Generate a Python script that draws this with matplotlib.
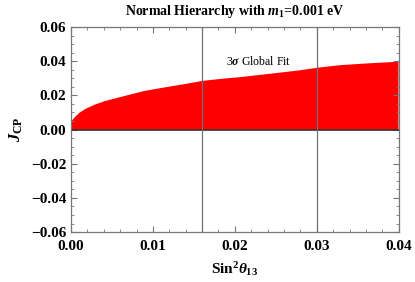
import matplotlib
matplotlib.use("Agg")
import matplotlib.pyplot as plt
from matplotlib.ticker import MultipleLocator

# upper edge of the red band
s13 = [0.0, 0.0005, 0.0010, 0.0017, 0.0028, 0.0041, 0.0065, 0.009, 0.0114, 0.0139,
       0.016, 0.0183, 0.0206, 0.0243, 0.0279, 0.030, 0.0328, 0.036, 0.0399]
jcp_up = [0.0053, 0.0080, 0.0102, 0.0124, 0.0148, 0.017, 0.020, 0.023, 0.025, 0.027,
          0.0288, 0.030, 0.031, 0.033, 0.035, 0.0365, 0.038, 0.039, 0.040]

fit_lo = 0.016
fit_hi = 0.030

plt.rcParams['font.family'] = ['Liberation Serif', 'DejaVu Serif']
plt.rcParams['mathtext.fontset'] = 'custom'
plt.rcParams['mathtext.rm'] = 'Liberation Serif:bold'
plt.rcParams['mathtext.it'] = 'Liberation Serif:bold:italic'
plt.rcParams['mathtext.bf'] = 'Liberation Serif:bold'

fig = plt.figure(figsize=(4.15, 2.82), dpi=100)
ax = fig.add_axes([0.171, 0.177, 0.790, 0.727])

ax.fill_between(s13, 0, jcp_up, color="red", lw=0)
ax.axhline(0, color="#333333", lw=1.2)
ax.axvline(fit_lo, color="#707070", lw=0.9)
ax.axvline(fit_hi, color="#707070", lw=0.9)
ax.text(0.0229, 0.040, r"3$\sigma$ Global Fit", fontsize=8.5, ha="center", va="center")

ax.set_xlim(0, 0.04)
ax.set_ylim(-0.06, 0.06)
ax.xaxis.set_major_locator(MultipleLocator(0.01))
ax.xaxis.set_minor_locator(MultipleLocator(0.002))
ax.yaxis.set_major_locator(MultipleLocator(0.02))
ax.yaxis.set_minor_locator(MultipleLocator(0.005))
ax.xaxis.set_major_formatter(plt.FuncFormatter(lambda v, p: "%.2f" % v))
ax.yaxis.set_major_formatter(plt.FuncFormatter(lambda v, p: ("%.2f" % v).replace("-", "\u2212")))
ax.tick_params(which="both", direction="in", top=True, right=True, color="#777777")
ax.tick_params(which="major", length=4, width=0.8, labelsize=11)
ax.tick_params(which="minor", length=2, width=0.6)
ax.tick_params(axis="x", which="major", pad=6)
for lab in ax.get_xticklabels() + ax.get_yticklabels():
    lab.set_fontweight("bold")
for sp in ax.spines.values():
    sp.set_color("#777777")
    sp.set_linewidth(0.9)

ax.set_title(r"Normal Hierarchy with $m_1$=0.001 eV", fontsize=10, fontweight="bold", pad=9)
ax.set_xlabel(r"Sin$^2\theta_{13}$", fontsize=11, fontweight="bold", labelpad=5)
ax.set_ylabel(r"$J_{\rm CP}$", fontsize=12, labelpad=4)

fig.savefig("out.png", dpi=100)
